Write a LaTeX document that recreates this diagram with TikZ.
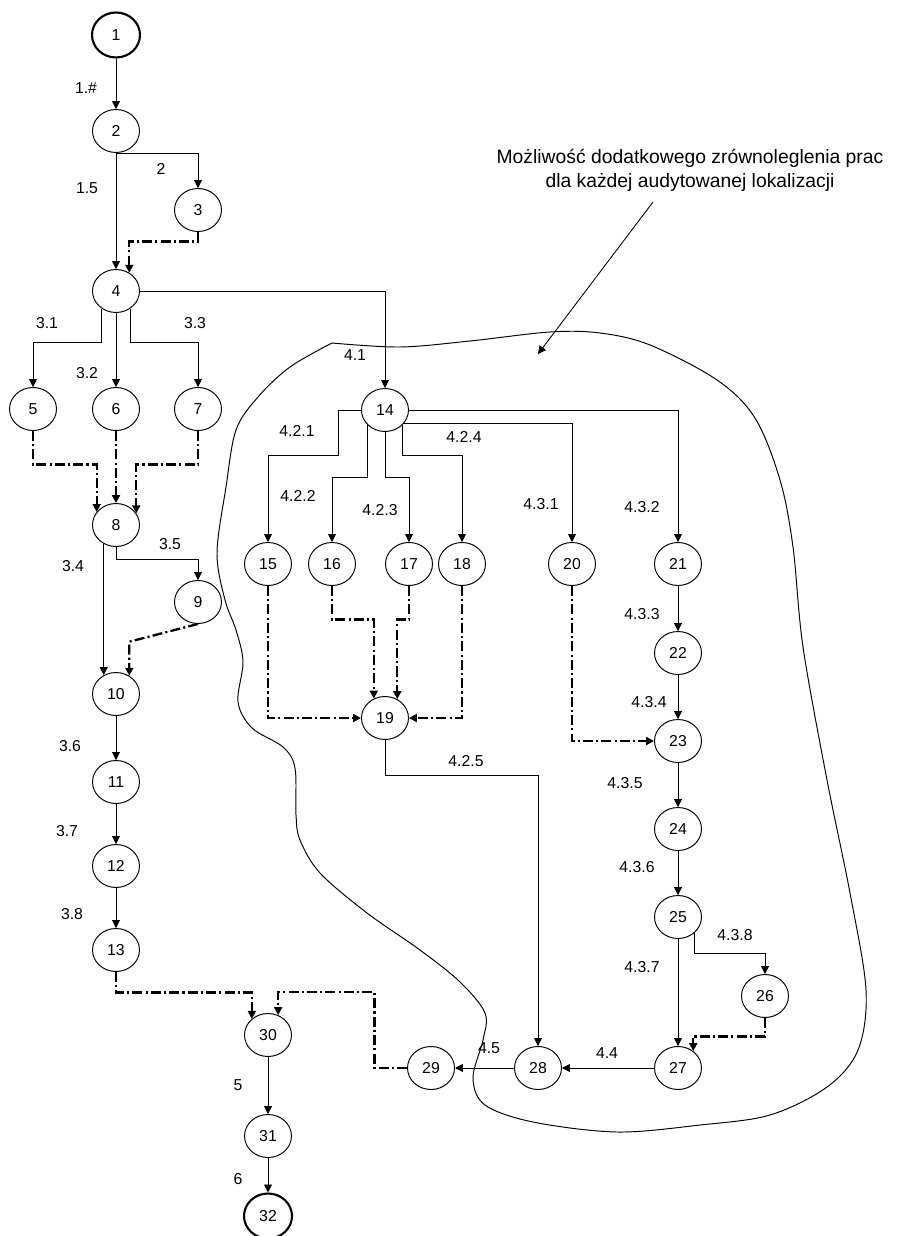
\documentclass[tikz,border=0pt]{standalone}
\usepackage{fontspec}
\setmainfont{Liberation Sans}
\usetikzlibrary{arrows.meta,shapes.geometric}
\tikzset{
  ev/.style={draw=black, ellipse, minimum width=0.94cm, minimum height=0.86cm, inner sep=0pt, line width=0.55pt, font=\fontsize{9}{11}\selectfont},
  endev/.style={ev, line width=1.2pt, minimum width=0.96cm, minimum height=0.9cm},
  arrow/.style={-{Triangle[length=4.5pt,width=4.5pt]}, line width=0.5pt},
  dasharrow/.style={-{Triangle[length=4.5pt,width=4.5pt]}, line width=1.3pt, dash pattern=on 5.7pt off 1.8pt on 1.2pt off 1.8pt},
  lbl/.style={font=\fontsize{9}{11}\selectfont, inner sep=0pt},
  note/.style={align=center, font=\fontsize{11}{13.6}\selectfont, inner sep=0pt}
}

\begin{document}
\begin{tikzpicture}[x=0.02cm, y=-0.02cm]
\useasboundingbox (0,0) rectangle (896,1236);

% events
\node[endev] (n1) at (116,35) {1};
\node[ev] (n2) at (116,131) {2};
\node[ev] (n3) at (198,210) {3};
\node[ev] (n4) at (116,291) {4};
\node[ev] (n5) at (33,409) {5};
\node[ev] (n6) at (116,409) {6};
\node[ev] (n7) at (198,409) {7};
\node[ev] (n8) at (116,525) {8};
\node[ev] (n9) at (198,602) {9};
\node[ev] (n10) at (116,694) {10};
\node[ev] (n11) at (116,782) {11};
\node[ev] (n12) at (116,866) {12};
\node[ev] (n13) at (116,950) {13};
\node[ev] (n14) at (385,410) {14};
\node[ev] (n15) at (268,564) {15};
\node[ev] (n16) at (332,564) {16};
\node[ev] (n17) at (409,564) {17};
\node[ev] (n18) at (462,564) {18};
\node[ev] (n19) at (385,718) {19};
\node[ev] (n20) at (572,564) {20};
\node[ev] (n21) at (678,564) {21};
\node[ev] (n22) at (678,653) {22};
\node[ev] (n23) at (678,741) {23};
\node[ev] (n24) at (678,829) {24};
\node[ev] (n25) at (678,917) {25};
\node[ev] (n26) at (765,996) {26};
\node[ev] (n27) at (678,1068) {27};
\node[ev] (n28) at (538,1068) {28};
\node[ev] (n29) at (431,1068) {29};
\node[ev] (n30) at (268,1035) {30};
\node[ev] (n31) at (268,1136) {31};
\node[endev] (n32) at (268,1216) {32};

% activity labels
\node[lbl] (t1) at (86,88) {1.\#};
\node[lbl] (t15) at (87,188) {1.5};
\node[lbl] (t2) at (161,169) {2};
\node[lbl] (t31) at (47,323) {3.1};
\node[lbl] (t32) at (87,373) {3.2};
\node[lbl] (t33) at (195,323) {3.3};
\node[lbl] (t34) at (73,566) {3.4};
\node[lbl] (t35) at (170,544) {3.5};
\node[lbl] (t36) at (70,746) {3.6};
\node[lbl] (t37) at (67,831) {3.7};
\node[lbl] (t38) at (72,914) {3.8};
\node[lbl] (t41) at (355,355) {4.1};
\node[lbl] (t421) at (297,431) {4.2.1};
\node[lbl] (t422) at (298,496) {4.2.2};
\node[lbl] (t423) at (380,510) {4.2.3};
\node[lbl] (t424) at (464,437) {4.2.4};
\node[lbl] (t425) at (466,761) {4.2.5};
\node[lbl] (t431) at (541,504) {4.3.1};
\node[lbl] (t432) at (642,507) {4.3.2};
\node[lbl] (t433) at (642,614) {4.3.3};
\node[lbl] (t434) at (649,702) {4.3.4};
\node[lbl] (t435) at (625,783) {4.3.5};
\node[lbl] (t436) at (637,867) {4.3.6};
\node[lbl] (t437) at (642,967) {4.3.7};
\node[lbl] (t438) at (735,935) {4.3.8};
\node[lbl] (t44) at (607,1053) {4.4};
\node[lbl] (t45) at (489,1048) {4.5};
\node[lbl] (t5) at (238,1085) {5};
\node[lbl] (t6) at (238,1179) {6};

% solid activities
\draw[arrow] (n1) -- (n2);
\draw[arrow] (n2) -- (n4);
\draw[arrow] (n2.south) -| (n3);
\draw[arrow] (n4.231) -- ++(0,34) -| (n5);
\draw[arrow] (n4) -- (n6);
\draw[arrow] (n4.309) -- ++(0,34) -| (n7);
\draw[arrow] (n4.east) -| (n14);
\draw[arrow] (n8.237) -- (n10.123);
\draw[arrow] (n8.south) -- ++(0,12.5) -| (n9);
\draw[arrow] (n10) -- (n11);
\draw[arrow] (n11) -- (n12);
\draw[arrow] (n12) -- (n13);
\draw[arrow] (n14.west) -- ++(-23,0) -- ++(0,45) -| (n15);
\draw[arrow] (n14.221) -- ++(0,52) -| (n16);
\draw[arrow] (n14.south) -- ++(0,45.5) -| (n17);
\draw[arrow] (n14.319) -- ++(0,30) -| (n18);
\draw[arrow] (n14.325) -| (n20);
\draw[arrow] (n14.east) -| (n21);
\draw[arrow] (n19.south) -- ++(0,35) -| (n28);
\draw[arrow] (n21) -- (n22);
\draw[arrow] (n22) -- (n23);
\draw[arrow] (n23) -- (n24);
\draw[arrow] (n24) -- (n25);
\draw[arrow] (n25) -- (n27);
\draw[arrow] (n25.315) -- ++(0,20) -| (n26);
\draw[arrow] (n27) -- (n28);
\draw[arrow] (n28) -- (n29);
\draw[arrow] (n30) -- (n31);
\draw[arrow] (n31) -- (n32);

% dummy activities
\draw[dasharrow] (n3.south) -- ++(0,9.5) -| (n4.54);
\draw[dasharrow] (n5.south) -- ++(0,33.5) -| (n8.146);
\draw[dasharrow] (n6) -- (n8);
\draw[dasharrow] (n7.south) -- ++(0,33.5) -| (n8.30);
\draw[dasharrow] (n9.south) -- ([yshift=0.68cm]n10.54) -- (n10.54);
\draw[dasharrow] (n13.south) -- ++(0,20.5) -| (n30.135);
\draw[dasharrow] (n29.west) -- ++(-32.5,0) -- ++(0,-76) -| (n30.63);
\draw[dasharrow] (n15) |- (n19);
\draw[dasharrow] (n16.south) -- ++(0,33.5) -| (n19.120);
\draw[dasharrow] (n17.south) -- ++(0,33.5) -| (n19.57);
\draw[dasharrow] (n18) |- (n19);
\draw[dasharrow] (n20) |- (n23);
\draw[dasharrow] (n26.south) -- ++(0,18.5) -| (n27.48);

% area of per-location parallel work
\draw[line width=0.55pt] plot[smooth, tension=0.55] coordinates {
  (332,343) (400,347) (470,341) (550,332) (600,333) (650,345) (717,380)
  (755,418) (780,480) (793,547) (803,647) (827,780) (850,893) (866,990)
  (858,1050) (827,1087) (770,1115) (700,1125) (617,1132) (533,1122)
  (485,1105) (473,1078) (483,1040) (485,1013) (460,982) (420,950)
  (367,913) (320,873) (300,840) (296,815) (295,768) (283,747) (252,728)
  (238,702) (243,662) (236,630) (225,600) (217,553) (226,487) (236,430)
  (258,397) (290,367) (332,343)};

\node[note] (note) at (690,170) {Możliwość dodatkowego zrównoleglenia prac\\dla każdej audytowanej lokalizacji};
\coordinate (ptrfrom) at (653,202);
\coordinate (ptrto) at (538,354);
\draw[arrow] (ptrfrom) -- (ptrto);
\end{tikzpicture}
\end{document}
